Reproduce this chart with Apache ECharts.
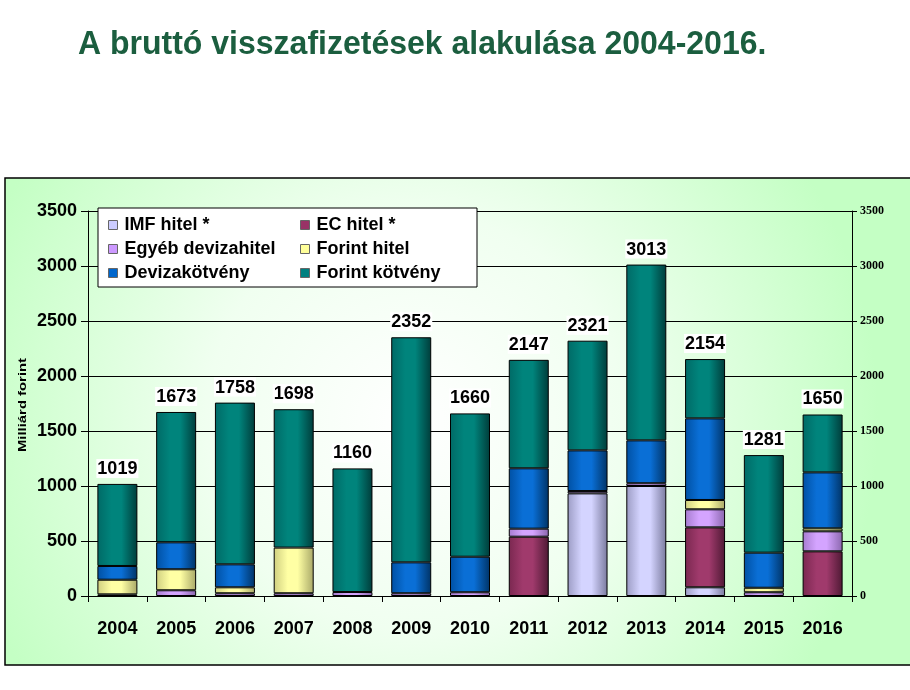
<!DOCTYPE html>
<html>
<head>
<meta charset="utf-8">
<script src="https://cdn.jsdelivr.net/npm/echarts@6/dist/echarts.min.js"></script>
<style>
html,body{margin:0;padding:0;background:#fff;}
#c{width:910px;height:690px;}
</style>
</head>
<body>
<div id="c"></div>
<script>
var categories = ['2004','2005','2006','2007','2008','2009','2010','2011','2012','2013','2014','2015','2016'];
var imfHitel      = [0,0,0,0,0,0,0,0,933,1000,79,0,0];
var ecHitel       = [0,0,0,0,0,0,0,539,0,0,545,0,406];
var egyebDeviza   = [15,52,25,25,36,25,34,73,21,25,164,34,182];
var forintHitel   = [133,191,54,415,0,0,0,0,0,0,85,41,27];
var devizaKotveny = [125,245,209,0,0,281,323,549,370,390,742,319,509];
var forintKotveny = [746,1185,1470,1258,1124,2046,1303,986,997,1598,539,887,526];
var totals        = [1019,1673,1758,1698,1160,2352,1660,2147,2321,3013,2154,1281,1650];
var yTicks = [0,500,1000,1500,2000,2500,3000,3500];

var FONT = '"Liberation Sans", Arial, sans-serif';

function grad(dark, light, dark2) {
  return {type:'linear', x:0, y:0, x2:1, y2:0, colorStops:[
    {offset:0, color:dark}, {offset:0.35, color:light}, {offset:0.6, color:light}, {offset:1, color:dark2}
  ]};
}

var seriesDefs = [
  {name:'IMF hitel *', data:imfHitel, base:'#ccccff', g:grad('#9c9cc4','#d4d4ff','#7a7a9e')},
  {name:'EC hitel *', data:ecHitel, base:'#993366', g:grad('#7a2850','#a03a6c','#4e1934')},
  {name:'Egyéb devizahitel', data:egyebDeviza, base:'#cc99ff', g:grad('#a67ccf','#d4a4ff','#8a66ad')},
  {name:'Forint hitel', data:forintHitel, base:'#ffff99', g:grad('#cfcf80','#ffffa4','#a8a868')},
  {name:'Devizakötvény', data:devizaKotveny, base:'#0066cc', g:grad('#0050a3','#0a6fd6','#003366')},
  {name:'Forint kötvény', data:forintKotveny, base:'#008080', g:grad('#006a66','#00847c','#003c3a')}
];

var series = seriesDefs.map(function(s, i){
  var o = {
    name: s.name,
    type: 'bar',
    stack: 'total',
    barWidth: 40,
    data: s.data.map(function(v){ return v === 0 ? '-' : v; }),
    itemStyle: {color: s.g, borderColor:'#000', borderWidth:1},
    emphasis: {disabled:true},
    animation: false
  };
  if (i === seriesDefs.length - 1) {
    o.label = {
      show: true, position: 'top', distance: 6,
      formatter: function(p){ return String(totals[p.dataIndex]); },
      fontFamily: FONT, fontWeight: 'bold', fontSize: 18, color: '#000',
      backgroundColor: '#fff', padding: [1,1,0,1]
    };
  }
  return o;
});

function legendData(names){
  return names.map(function(n){
    var d = seriesDefs.filter(function(s){return s.name===n;})[0];
    return {name:n, itemStyle:{color:d.base, borderColor:'#666', borderWidth:1}};
  });
}

var legendCommon = {
  orient:'vertical', itemWidth:9, itemHeight:9, itemGap:6,
  icon:'rect',
  textStyle:{fontFamily:FONT, fontWeight:'bold', fontSize:18, color:'#000', padding:[0,0,0,2]},
  selectedMode:false, z:10
};

var chart = echarts.init(document.getElementById('c'), null, {renderer:'canvas'});
chart.setOption({
  animation:false,
  backgroundColor:'#fff',
  graphic:[
    {type:'rect', shape:{x:5, y:178, width:910, height:487}, z:-10,
     style:{fill:{type:'radial', x:0.45, y:0.5, r:0.95, colorStops:[
       {offset:0, color:'#ffffff'},{offset:0.45, color:'#f0fff0'},{offset:1, color:'#c4ffc4'}]},
       stroke:'#000', lineWidth:1.5}},
    {type:'rect', shape:{x:98, y:208, width:379, height:79}, z:9,
     style:{fill:'#fff', stroke:'#000', lineWidth:1}},
    {type:'text', x:78, y:45, z:20, scaleY:1.06,
     style:{text:'A bruttó visszafizetések alakulása 2004-2016.', fill:'#1b5e3f',
       font:'bold 32px "Liberation Sans", Arial, sans-serif', textVerticalAlign:'middle', textAlign:'left'}},
    {type:'text', x:23, y:405, z:20, rotation:Math.PI/2, scaleX:1.35,
     style:{text:'Milliárd forint', fill:'#000',
       font:'bold 11px "Liberation Sans", Arial, sans-serif', textVerticalAlign:'middle', textAlign:'center'}}
  ],
  legend:[
    Object.assign({left:103, top:211, data:legendData(['IMF hitel *','Egyéb devizahitel','Devizakötvény'])}, legendCommon),
    Object.assign({left:295, top:211, data:legendData(['EC hitel *','Forint hitel','Forint kötvény'])}, legendCommon)
  ],
  grid:{left:88, right:58, top:211, bottom:94, containLabel:false},
  xAxis:{
    type:'category', data:categories,
    axisLine:{show:true, lineStyle:{color:'#000', width:1}},
    axisTick:{show:true, length:6, lineStyle:{color:'#000'}},
    axisLabel:{fontFamily:FONT, fontWeight:'bold', fontSize:18, color:'#000', margin:24}
  },
  yAxis:[
    {type:'value', min:0, max:3500, interval:500,
     axisLine:{show:true, lineStyle:{color:'#000'}},
     axisTick:{show:true, length:7, lineStyle:{color:'#000'}},
     axisLabel:{fontFamily:FONT, fontWeight:'bold', fontSize:18, color:'#000', margin:11,
       formatter:function(v){ return yTicks.indexOf(v) >= 0 ? String(v) : ''; }},
     splitLine:{show:true, lineStyle:{color:'#000', width:1}}
    },
    {type:'value', min:0, max:3500, interval:500, position:'right',
     axisLine:{show:true, lineStyle:{color:'#000'}},
     axisTick:{show:true, length:5, lineStyle:{color:'#000'}},
     axisLabel:{fontFamily:'"Liberation Serif", "Times New Roman", serif', fontWeight:'bold', fontSize:12, color:'#000', margin:8,
       formatter:function(v){ return String(v); }},
     splitLine:{show:false}
    }
  ],
  series: series
});
</script>
</body>
</html>
